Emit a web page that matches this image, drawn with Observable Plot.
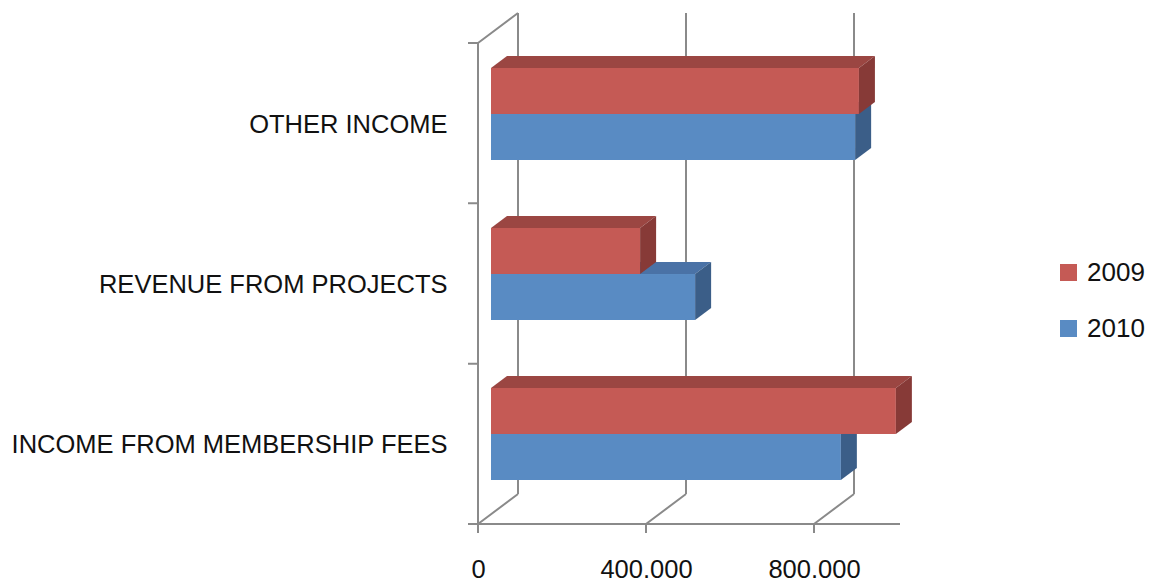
<!DOCTYPE html>
<html>
<head>
<meta charset="utf-8">
<script src="https://cdn.jsdelivr.net/npm/d3@7"></script>
<script src="https://cdn.jsdelivr.net/npm/@observablehq/plot@0.6"></script>
<style>
  html, body { margin: 0; padding: 0; background: #ffffff; }
  #wrap { position: relative; width: 1152px; height: 585px; font-family: "Liberation Sans", Arial, sans-serif; }
  #legend { position: absolute; left: 1060px; top: 254px; }
  .item { display: flex; align-items: center; height: 36px; margin-bottom: 20px; font-size: 26px; color: #111; }
  .sw { width: 17px; height: 17px; margin-right: 10px; }
</style>
</head>
<body>
<div id="wrap"><div id="legend"></div></div>
<script>
// ---- data ----
const categories = ["OTHER INCOME", "REVENUE FROM PROJECTS", "INCOME FROM MEMBERSHIP FEES"];
const years = ["2009", "2010"];
const values2009 = [876000, 355000, 964000];
const values2010 = [867000, 486000, 833000];
const xTicks = [0, 400000, 800000];
const xTickLabels = ["0", "400.000", "800.000"];
const xMax = 1000000;

// ---- style / layout ----
const W = 1152, H = 585;
const M = {top: 43, right: 254, bottom: 61, left: 478};
const PAD_IN = 0.426, PAD_OUT = 0.213;
const WALL = {dx: 40, dy: -30};    // back wall offset
const FRONT = {dx: 13, dy: -10};   // bar front face offset
const DEPTH = {dx: 16, dy: -12};   // bar thickness
const GRID = "#8a8a8a";
const colors = {
  "2009": {front: "#c55a55", top: "#9b4642", side: "#873a37"},
  "2010": {front: "#598bc3", top: "#4a72a6", side: "#3b5e88"}
};

const rows2009 = categories.map((c, i) => ({category: c, year: "2009", value: values2009[i]}));
const rows2010 = categories.map((c, i) => ({category: c, year: "2010", value: values2010[i]}));

const step = (H - M.top - M.bottom) / categories.length;
const half = step * (1 - PAD_IN) / 2;

function frame3d(index, scales) {
  const {x, y} = scales;
  const [y0, y1] = y.range();
  const n = categories.length;
  const g = d3.create("svg:g").attr("fill", "none").attr("stroke", GRID).attr("stroke-width", 2);
  const xa = x(0), xe = x(xMax);
  let d = "";
  for (const t of xTicks) d += `M${x(t) + WALL.dx},${y0 + WALL.dy}V${y1 + WALL.dy}`;
  for (const t of xTicks) d += `M${x(t)},${y1}L${x(t) + WALL.dx},${y1 + WALL.dy}`;
  d += `M${xa},${y0}L${xa + WALL.dx},${y0 + WALL.dy}`;
  d += `M${xa},${y0}V${y1}M${xa},${y1}H${xe + 2}`;
  for (let i = 0; i <= n; i++) { const yy = y0 + i * (y1 - y0) / n; d += `M${xa - 10},${yy}H${xa}`; }
  for (const t of xTicks) d += `M${x(t)},${y1}V${y1 + 9}`;
  g.append("path").attr("d", d);
  return g.node();
}

function faces(rows) {
  return (index, scales) => {
    const {x, y} = scales;
    const bw = y.bandwidth();
    const g = d3.create("svg:g");
    for (const r of rows) {
      const c = colors[r.year];
      const yTop = y(r.category) + (r.year === years[0] ? 0 : bw / 2) + FRONT.dy;
      const yBot = yTop + bw / 2;
      const x0 = x(0) + FRONT.dx, x1 = x(r.value) + FRONT.dx;
      g.append("path")
        .attr("d", `M${x0},${yTop}L${x1},${yTop}L${x1 + DEPTH.dx},${yTop + DEPTH.dy}L${x0 + DEPTH.dx},${yTop + DEPTH.dy}Z`)
        .attr("fill", c.top);
      g.append("path")
        .attr("d", `M${x1},${yTop}L${x1},${yBot}L${x1 + DEPTH.dx},${yBot + DEPTH.dy}L${x1 + DEPTH.dx},${yTop + DEPTH.dy}Z`)
        .attr("fill", c.side);
    }
    return g.node();
  };
}

const chart = Plot.plot({
  width: W, height: H,
  marginTop: M.top, marginRight: M.right, marginBottom: M.bottom, marginLeft: M.left,
  style: {fontFamily: "'Liberation Sans', Arial, sans-serif", fontSize: "25.5px", color: "#111", background: "#fff"},
  x: {domain: [0, xMax], ticks: xTicks, tickFormat: d => xTickLabels[xTicks.indexOf(d)], tickSize: 0, tickPadding: 35, label: null},
  y: {domain: categories, paddingInner: PAD_IN, paddingOuter: PAD_OUT, tickSize: 0, tickPadding: 31, label: null},
  marks: [
    frame3d,
    Plot.barX(rows2010, {x: "value", y: "category", fill: colors["2010"].front, insetTop: half, dx: FRONT.dx, dy: FRONT.dy}),
    faces(rows2010),
    Plot.barX(rows2009, {x: "value", y: "category", fill: colors["2009"].front, insetBottom: half, dx: FRONT.dx, dy: FRONT.dy}),
    faces(rows2009)
  ]
});
document.getElementById("wrap").prepend(chart);

// legend
const legend = d3.select("#legend");
for (const yr of years) {
  const it = legend.append("div").attr("class", "item");
  it.append("div").attr("class", "sw").style("background", colors[yr].front);
  it.append("span").text(yr);
}
</script>
</body>
</html>
